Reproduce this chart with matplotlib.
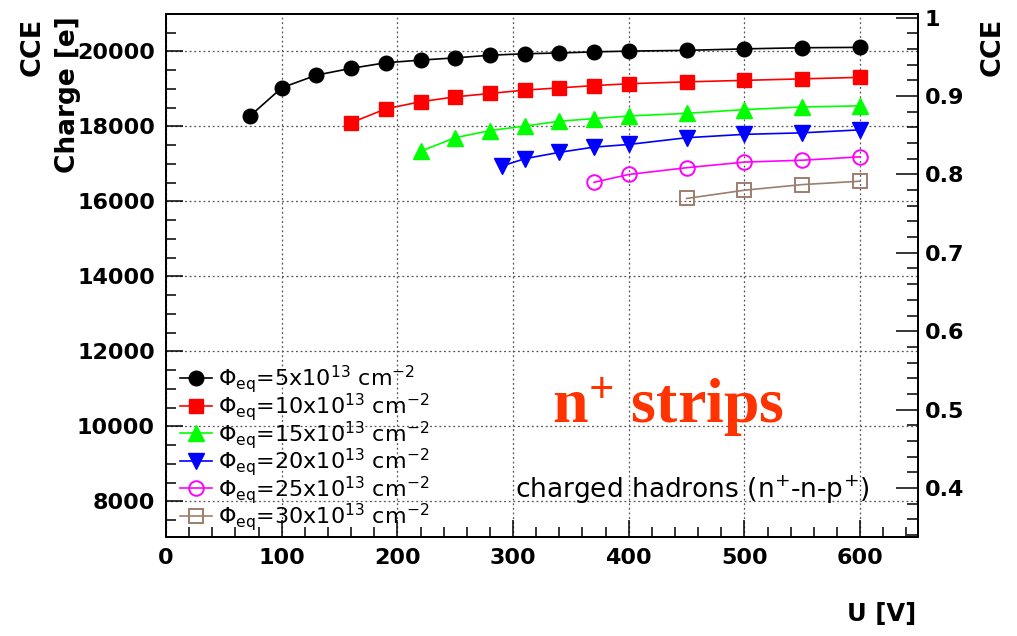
import matplotlib
matplotlib.use('Agg')
import matplotlib.pyplot as plt
from matplotlib.ticker import MultipleLocator, FuncFormatter

plt.rcParams['font.family'] = ['DejaVu Sans']
plt.rcParams['font.weight'] = 'bold'
plt.rcParams['mathtext.default'] = 'regular'

# ---- data ----
u_5 = [73, 100, 130, 160, 190, 220, 250, 280, 310, 340, 370, 400, 450, 500, 550, 600]
q_5 = [18290, 19030, 19370, 19550, 19700, 19770, 19830, 19900, 19940, 19960, 19990,
       20010, 20030, 20070, 20100, 20110]
u_10 = [160, 190, 220, 250, 280, 310, 340, 370, 400, 450, 500, 550, 600]
q_10 = [18100, 18470, 18660, 18790, 18880, 18970, 19030, 19090, 19140, 19190, 19230,
        19270, 19310]
u_15 = [220, 250, 280, 310, 340, 370, 400, 450, 500, 550, 600]
q_15 = [17340, 17700, 17890, 18010, 18140, 18210, 18280, 18350, 18450, 18520, 18550]
u_20 = [290, 310, 340, 370, 400, 450, 500, 550, 600]
q_20 = [16940, 17140, 17310, 17450, 17520, 17700, 17790, 17830, 17910]
u_25 = [370, 400, 450, 500, 550, 600]
q_25 = [16510, 16720, 16900, 17050, 17100, 17190]
u_30 = [450, 500, 550, 600]
q_30 = [16080, 16300, 16450, 16540]

fluences = ['5', '10', '15', '20', '25', '30']
charge_per_cce = 20900.0

fig = plt.figure(figsize=(10.17, 6.36), dpi=100)
ax = fig.add_axes([166/1017, 1-537/636, (918-166)/1017, (537-14)/636])

styles = [
    dict(color='black', marker='o', ms=10.5, mfc='black'),
    dict(color='#ff0000', marker='s', ms=10.5, mfc='#ff0000'),
    dict(color='#00ff00', marker='^', ms=11, mfc='#00ff00'),
    dict(color='#0000ff', marker='v', ms=11, mfc='#0000ff'),
    dict(color='#ff00ff', marker='o', ms=10.5, mfc='none', mew=1.4),
    dict(color='#9c7e6e', marker='s', ms=10.5, mfc='none', mew=1.4),
]
series = [(u_5, q_5), (u_10, q_10), (u_15, q_15), (u_20, q_20), (u_25, q_25), (u_30, q_30)]
handles = []
for (u, q), st, f in zip(series, styles, fluences):
    h, = ax.plot(u, q, lw=1.2, mec=st['color'], zorder=3, **st,
                 label='Φ$_{eq}$=' + f + 'x10$^{13}$ cm$^{-2}$')
    handles.append(h)

ax.set_xlim(0, 650)
ax.set_ylim(7050, 21000)
ax.xaxis.set_major_locator(MultipleLocator(100))
ax.xaxis.set_minor_locator(MultipleLocator(20))
ax.yaxis.set_major_locator(MultipleLocator(2000))
ax.yaxis.set_minor_locator(MultipleLocator(500))
ax.tick_params(which='both', direction='in', top=False, right=False, labelsize=16, width=1.1)
ax.tick_params(which='major', length=12, pad=8)
ax.tick_params(which='minor', length=7)
ax.grid(True, which='major', linestyle=(0, (1.5, 2.2)), color='#555555', lw=0.9)
for sp in ax.spines.values():
    sp.set_linewidth(1.4)

ax2 = ax.twinx()
ax2.set_ylim(7050/charge_per_cce, 21000/charge_per_cce)
ax2.yaxis.set_major_locator(MultipleLocator(0.1))
ax2.yaxis.set_minor_locator(MultipleLocator(0.02))
ax2.yaxis.set_major_formatter(FuncFormatter(lambda v, p: '%g' % round(v, 2)))
ax2.tick_params(which='both', direction='in', labelsize=16, width=1.1)
ax2.tick_params(which='major', length=16, pad=5)
ax2.tick_params(which='minor', length=8)
for sp in ax2.spines.values():
    sp.set_linewidth(1.4)

leg = ax.legend(handles=handles, loc='lower left', bbox_to_anchor=(0.0153, 0.003),
                frameon=False, prop=dict(family='DejaVu Sans', weight='normal', size=16),
                handlelength=1.45, handletextpad=0.25, labelspacing=-0.2,
                borderaxespad=0.0, borderpad=0.1)

fig.text(552/1017, 1-423/636, 'n$^{+}$ strips', family='Liberation Serif', weight='bold',
         fontsize=46, color='#ff3300', ha='left', va='baseline')
fig.text(515/1017, 1-498/636, 'charged hadrons (n$^{+}$-n-p$^{+}$)', fontsize=19,
         weight='normal', ha='left', va='baseline')

fig.text(68/1017, 1-95/636, 'Charge [e]', rotation=90, ha='center', va='center',
         fontsize=19, weight='bold')
fig.text(33/1017, 1-47/636, 'CCE', rotation=90, ha='center', va='center',
         fontsize=19.5, weight='bold')
fig.text(993/1017, 1-47/636, 'CCE', rotation=90, ha='center', va='center',
         fontsize=19.5, weight='bold')
fig.text(882/1017, 1-614/636, 'U [V]', ha='center', va='center', fontsize=17.5, weight='bold')

fig.savefig('out.png', dpi=100)
